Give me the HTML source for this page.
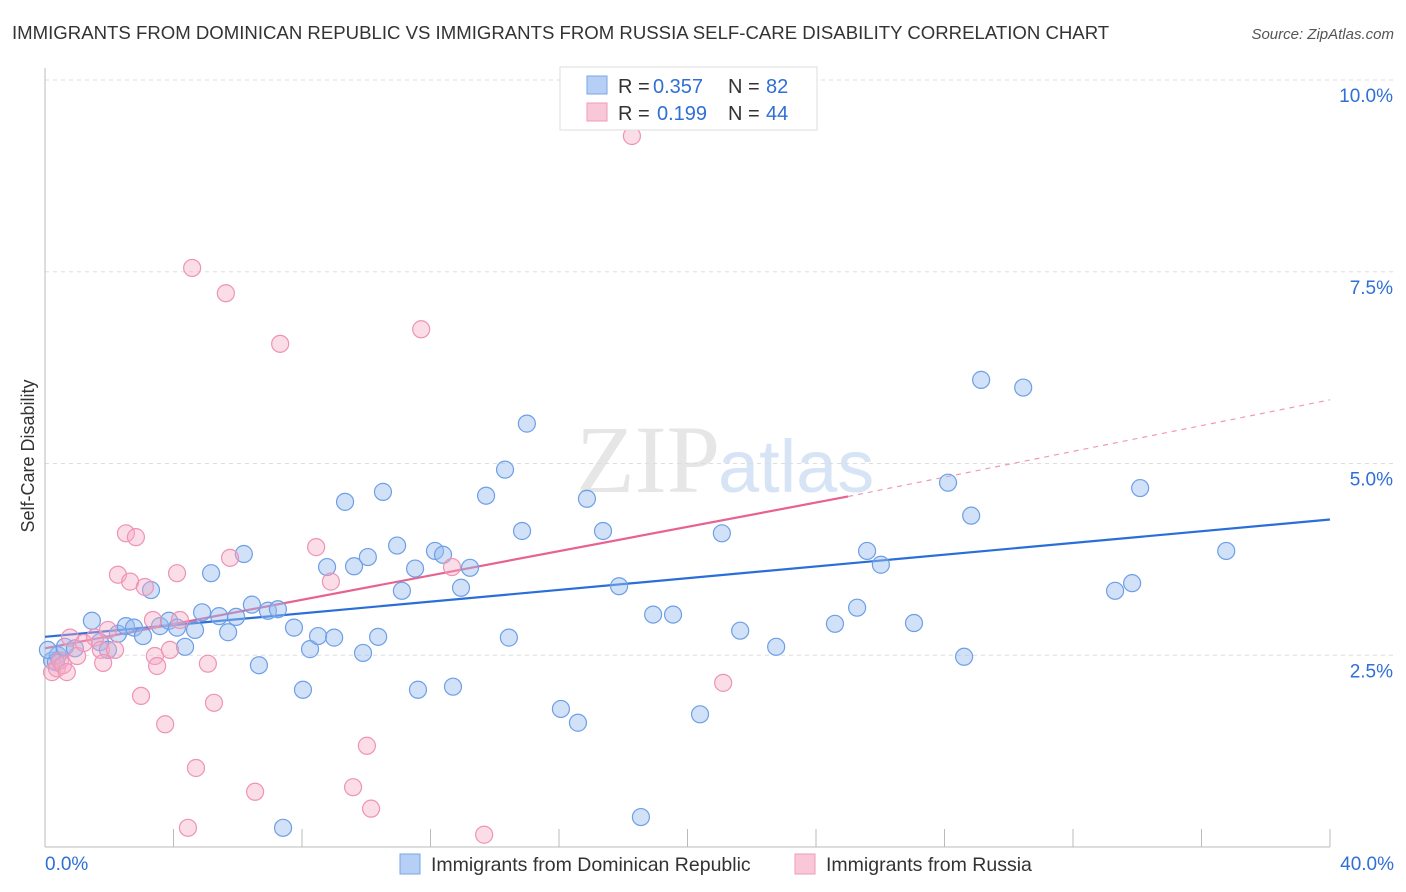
<!DOCTYPE html>
<html><head><meta charset="utf-8"><style>
body{margin:0;background:#fff;font-family:"Liberation Sans",sans-serif;}
</style></head><body>
<svg id="chart" width="1406" height="892" xmlns="http://www.w3.org/2000/svg" style="display:block">
<text x="12" y="39" font-size="18.6" fill="#333">IMMIGRANTS FROM DOMINICAN REPUBLIC VS IMMIGRANTS FROM RUSSIA SELF-CARE DISABILITY CORRELATION CHART</text>
<text x="1394" y="39" font-size="15" fill="#555" font-style="italic" text-anchor="end">Source: ZipAtlas.com</text>
<text x="720" y="492" font-size="96" fill="#e6e6e6" text-anchor="end" font-family="Liberation Serif,serif">ZIP</text>
<text x="718" y="492" font-size="74" fill="#d6e4f5">atlas</text>
<text x="34" y="456" font-size="18" fill="#333" text-anchor="middle" transform="rotate(-90 34 456)">Self-Care Disability</text>
<g id="grid"></g><g id="axes"></g><g id="trend"></g><g id="pts"></g>
<g>
<rect x="560" y="67" width="257" height="63" fill="#fff" stroke="#ddd"/>
<rect x="587" y="76" width="20" height="18" fill="#b5cff5" stroke="#7aa6e6"/>
<rect x="587" y="103" width="20" height="18" fill="#f9c8d8" stroke="#ef9ab8"/>
<text x="618" y="93" font-size="20" fill="#333">R =</text>
<text x="653" y="93" font-size="20" fill="#2f6fd6">0.357</text>
<text x="728" y="93" font-size="20" fill="#333">N =</text>
<text x="766" y="93" font-size="20" fill="#2f6fd6">82</text>
<text x="618" y="120" font-size="20" fill="#333">R =</text>
<text x="657" y="120" font-size="20" fill="#2f6fd6">0.199</text>
<text x="728" y="120" font-size="20" fill="#333">N =</text>
<text x="766" y="120" font-size="20" fill="#2f6fd6">44</text>
</g>
<g>
<rect x="400" y="854" width="20" height="20" fill="#b5cff5" stroke="#7aa6e6"/>
<text x="431" y="871" font-size="19.5" fill="#333">Immigrants from Dominican Republic</text>
<rect x="795" y="854" width="20" height="20" fill="#f9c8d8" stroke="#ef9ab8"/>
<text x="826" y="871" font-size="19.5" fill="#333">Immigrants from Russia</text>
</g>
</svg>
<script>
const yTicks=[2.5,5.0,7.5,10.0];
const yTickLabels=["2.5%","5.0%","7.5%","10.0%"];
const xTicks=[0,4,8,12,16,20,24,28,32,36,40];
const xEndLabels=["0.0%","40.0%"];
const blueX=[0.22,0.40,0.62,0.93,1.46,1.71,1.96,2.27,2.52,2.77,3.05,3.30,3.58,3.86,4.11,4.36,4.67,4.89,5.17,5.42,5.70,5.95,6.19,6.44,6.66,6.94,7.25,7.75,8.03,8.25,8.50,8.78,9.00,9.34,9.62,9.90,10.05,10.37,10.52,10.96,11.11,11.52,11.61,12.14,12.39,12.70,12.95,13.23,13.73,14.32,14.44,14.85,15.00,16.06,16.59,16.87,17.37,17.87,18.55,18.93,19.55,20.39,21.07,21.64,22.76,24.59,25.28,25.59,26.02,27.05,28.11,28.61,28.83,29.14,30.45,33.31,33.84,34.09,36.77,7.41,0.34,0.09];
const blueY=[2.43,2.50,2.61,2.59,2.95,2.67,2.57,2.78,2.88,2.86,2.75,3.35,2.88,2.95,2.86,2.61,2.83,3.06,3.57,3.01,2.80,3.00,3.82,3.16,2.37,3.08,3.10,2.86,2.05,2.58,2.75,3.65,2.73,4.50,3.66,2.53,3.78,2.74,4.63,3.93,3.34,3.63,2.05,3.86,3.81,2.09,3.38,3.64,4.58,4.92,2.73,4.12,5.52,1.80,1.62,4.54,4.12,3.40,0.39,3.03,3.03,1.73,4.09,2.82,2.61,2.91,3.12,3.86,3.68,2.92,4.75,2.48,4.32,6.09,5.99,3.34,3.44,4.68,3.86,0.25,2.41,2.57];
const pinkX=[0.22,0.37,0.47,0.56,0.68,0.78,1.00,1.21,1.56,1.74,1.81,1.96,2.18,2.27,2.52,2.65,2.83,2.99,3.11,3.36,3.42,3.49,3.74,3.89,4.11,4.20,4.45,4.58,4.70,5.07,5.26,5.63,5.76,6.54,7.32,8.44,8.90,9.59,10.02,10.15,11.71,12.67,13.67,18.27,21.11];
const pinkY=[2.28,2.33,2.43,2.37,2.28,2.73,2.49,2.66,2.73,2.57,2.40,2.83,2.57,3.55,4.09,3.46,4.04,1.97,3.39,2.96,2.49,2.36,1.60,2.57,3.57,2.96,0.25,7.55,1.03,2.39,1.88,7.22,3.77,0.72,6.56,3.91,3.46,0.78,1.32,0.50,6.75,3.65,0.16,9.27,2.14];
const blueTrend=[[0,2.74],[40,4.27]];
const pinkTrendSolid=[[0,2.59],[25,4.57]];
const pinkTrendDash=[[25,4.57],[40,5.83]];
const X=v=>45+v/40*1285, Y=v=>847-v*76.7;
const NS="http://www.w3.org/2000/svg";
function mk(parent,tag,attrs){const e=document.createElementNS(NS,tag);for(const k in attrs)e.setAttribute(k,attrs[k]);document.getElementById(parent).appendChild(e);return e;}
yTicks.forEach((t,i)=>{
 const l=mk('grid','line',{x1:45,x2:1394,y1:Y(t),y2:Y(t),stroke:'#ddd','stroke-dasharray':'4,4'});
 
 
 const tx=mk('grid','text',{x:1393,y:Y(t)+22,'font-size':19,fill:'#2f6fd6','text-anchor':'end'});
 tx.textContent=yTickLabels[i];
 
 
});
const ax=mk('axes','line',{x1:45,x2:1330,y1:847,y2:847,stroke:'#bbb'});


const ay=mk('axes','line',{x1:45,x2:45,y1:68,y2:847,stroke:'#bbb'});


xTicks.forEach(t=>{
 const l=mk('axes','line',{x1:X(t),x2:X(t),y1:829,y2:847,stroke:'#bbb'});
 
 
});
[[0,'start',45],[40,'end',1394]].forEach((a,i)=>{
 const tx=mk('axes','text',{x:a[2],y:870,'font-size':19,fill:'#2f6fd6','text-anchor':a[1]});
 tx.textContent=xEndLabels[i];
 
 
});
function pts(xs,ys,fill,stroke,name){
 xs.forEach((x,i)=>{
  const c=mk('pts','circle',{cx:X(x),cy:Y(ys[i]),r:8.5,fill:fill,stroke:stroke,'stroke-width':1.2});
  
  
 });
}
pts(blueX,blueY,'rgba(150,188,240,0.45)','#6e9fe6','dominican-point');
pts(pinkX,pinkY,'rgba(246,170,198,0.4)','#ee93b4','russia-point');
function tl(p,color,dash,name,w){
 const l=mk('trend','line',{x1:X(p[0][0]),y1:Y(p[0][1]),x2:X(p[1][0]),y2:Y(p[1][1]),stroke:color,'stroke-width':w});
 if(dash)l.setAttribute('stroke-dasharray',dash);
 
 
}
tl(blueTrend,'#2a6fd8',null,'dominican-trendline',2.2);
tl(pinkTrendSolid,'#e8628f',null,'russia-trendline',2.2);
tl(pinkTrendDash,'#ee9ab6','5,5','russia-trendline-extension',1.2);
</script>
</body></html>
